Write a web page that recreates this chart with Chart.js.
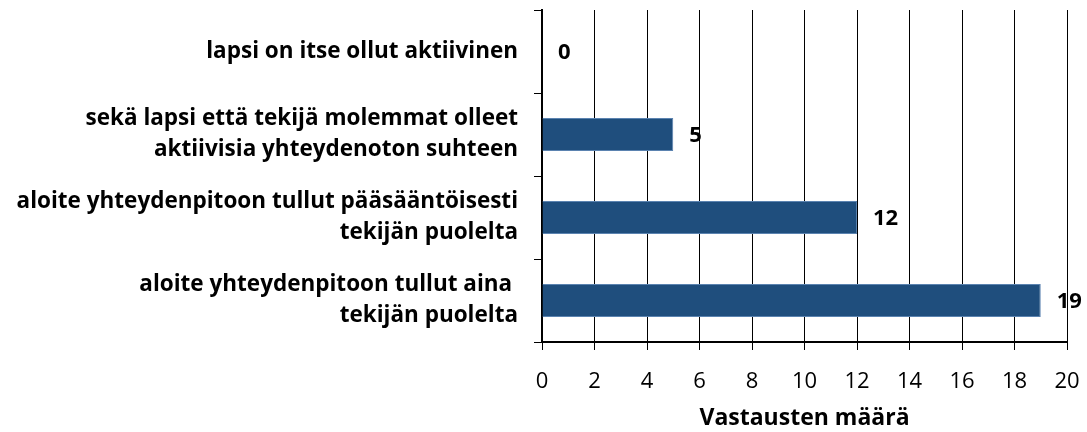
<!doctype html>
<html>
<head>
    <title>Vastausten määrä</title>
    <script src="https://cdn.jsdelivr.net/npm/chart.js"></script>
    <style>
        body { margin: 0; background: #fff; }
        #wrap { width: 1087px; height: 432px; }
    </style>
</head>
<body>
<div id="wrap"><canvas id="kaavio"></canvas></div>
<script>
    // kategoriat (ylhäältä alas) ja vastausten määrät
    var kategoriat = [
        ['lapsi on itse ollut aktiivinen'],
        ['sekä lapsi että tekijä molemmat olleet', 'aktiivisia yhteydenoton suhteen'],
        ['aloite yhteydenpitoon tullut pääsääntöisesti', 'tekijän puolelta'],
        ['aloite yhteydenpitoon tullut aina ', 'tekijän puolelta']
    ];
    var maarat = [0, 5, 12, 19];
    var xMin = 0, xMax = 20, xAskel = 2;

    var fontti = '"Open Sans", "Liberation Sans", Arial, sans-serif';

    // arvot palkkien perään lihavoituna
    var arvoTekstit = {
        id: 'arvoTekstit',
        afterDatasetsDraw(chart) {
            var ctx = chart.ctx;
            var meta = chart.getDatasetMeta(0);
            ctx.save();
            ctx.font = 'bold 22px ' + fontti;
            ctx.fillStyle = '#000';
            ctx.textBaseline = 'middle';
            ctx.textAlign = 'left';
            meta.data.forEach(function (bar, i) {
                ctx.fillText(String(maarat[i]), bar.x + 16, bar.y + 1);
            });
            ctx.restore();
        }
    };

    new Chart(document.getElementById('kaavio'), {
        type: 'bar',
        data: {
            labels: kategoriat,
            datasets: [{
                data: maarat,
                backgroundColor: '#1F4E7D',
                borderColor: '#5B83B0',
                borderWidth: 1,
                categoryPercentage: 1,
                barPercentage: 0.4
            }]
        },
        options: {
            indexAxis: 'y',
            responsive: true,
            maintainAspectRatio: false,
            animation: false,
            layout: { padding: { top: 10, right: 20, left: 0, bottom: 0 } },
            plugins: {
                legend: { display: false },
                tooltip: { enabled: false }
            },
            scales: {
                x: {
                    min: xMin,
                    max: xMax,
                    ticks: {
                        stepSize: xAskel,
                        color: '#000',
                        font: { family: fontti, size: 22 },
                        padding: 19
                    },
                    grid: {
                        color: '#000',
                        lineWidth: 1,
                        tickLength: 8
                    },
                    border: { color: '#000', width: 2 },
                    title: {
                        display: true,
                        text: 'Vastausten määrä',
                        color: '#000',
                        font: { family: fontti, size: 23, weight: 'bold' },
                        padding: { top: 6, bottom: 0 }
                    },
                    afterFit: function (scale) {
                        scale.height = 90;
                        scale.paddingLeft = 0;
                        scale.paddingRight = 0;
                    }
                },
                y: {
                    ticks: {
                        color: '#000',
                        font: { family: fontti, size: 22.5, weight: 'bold', lineHeight: 1.38 },
                        padding: 16
                    },
                    grid: {
                        drawOnChartArea: false,
                        color: '#000',
                        tickLength: 8
                    },
                    border: { color: '#000', width: 2 },
                    afterFit: function (scale) {
                        scale.width = 542;
                        scale.paddingTop = 0;
                        scale.paddingBottom = 0;
                    }
                }
            }
        },
        plugins: [arvoTekstit]
    });
</script>
</body>
</html>
